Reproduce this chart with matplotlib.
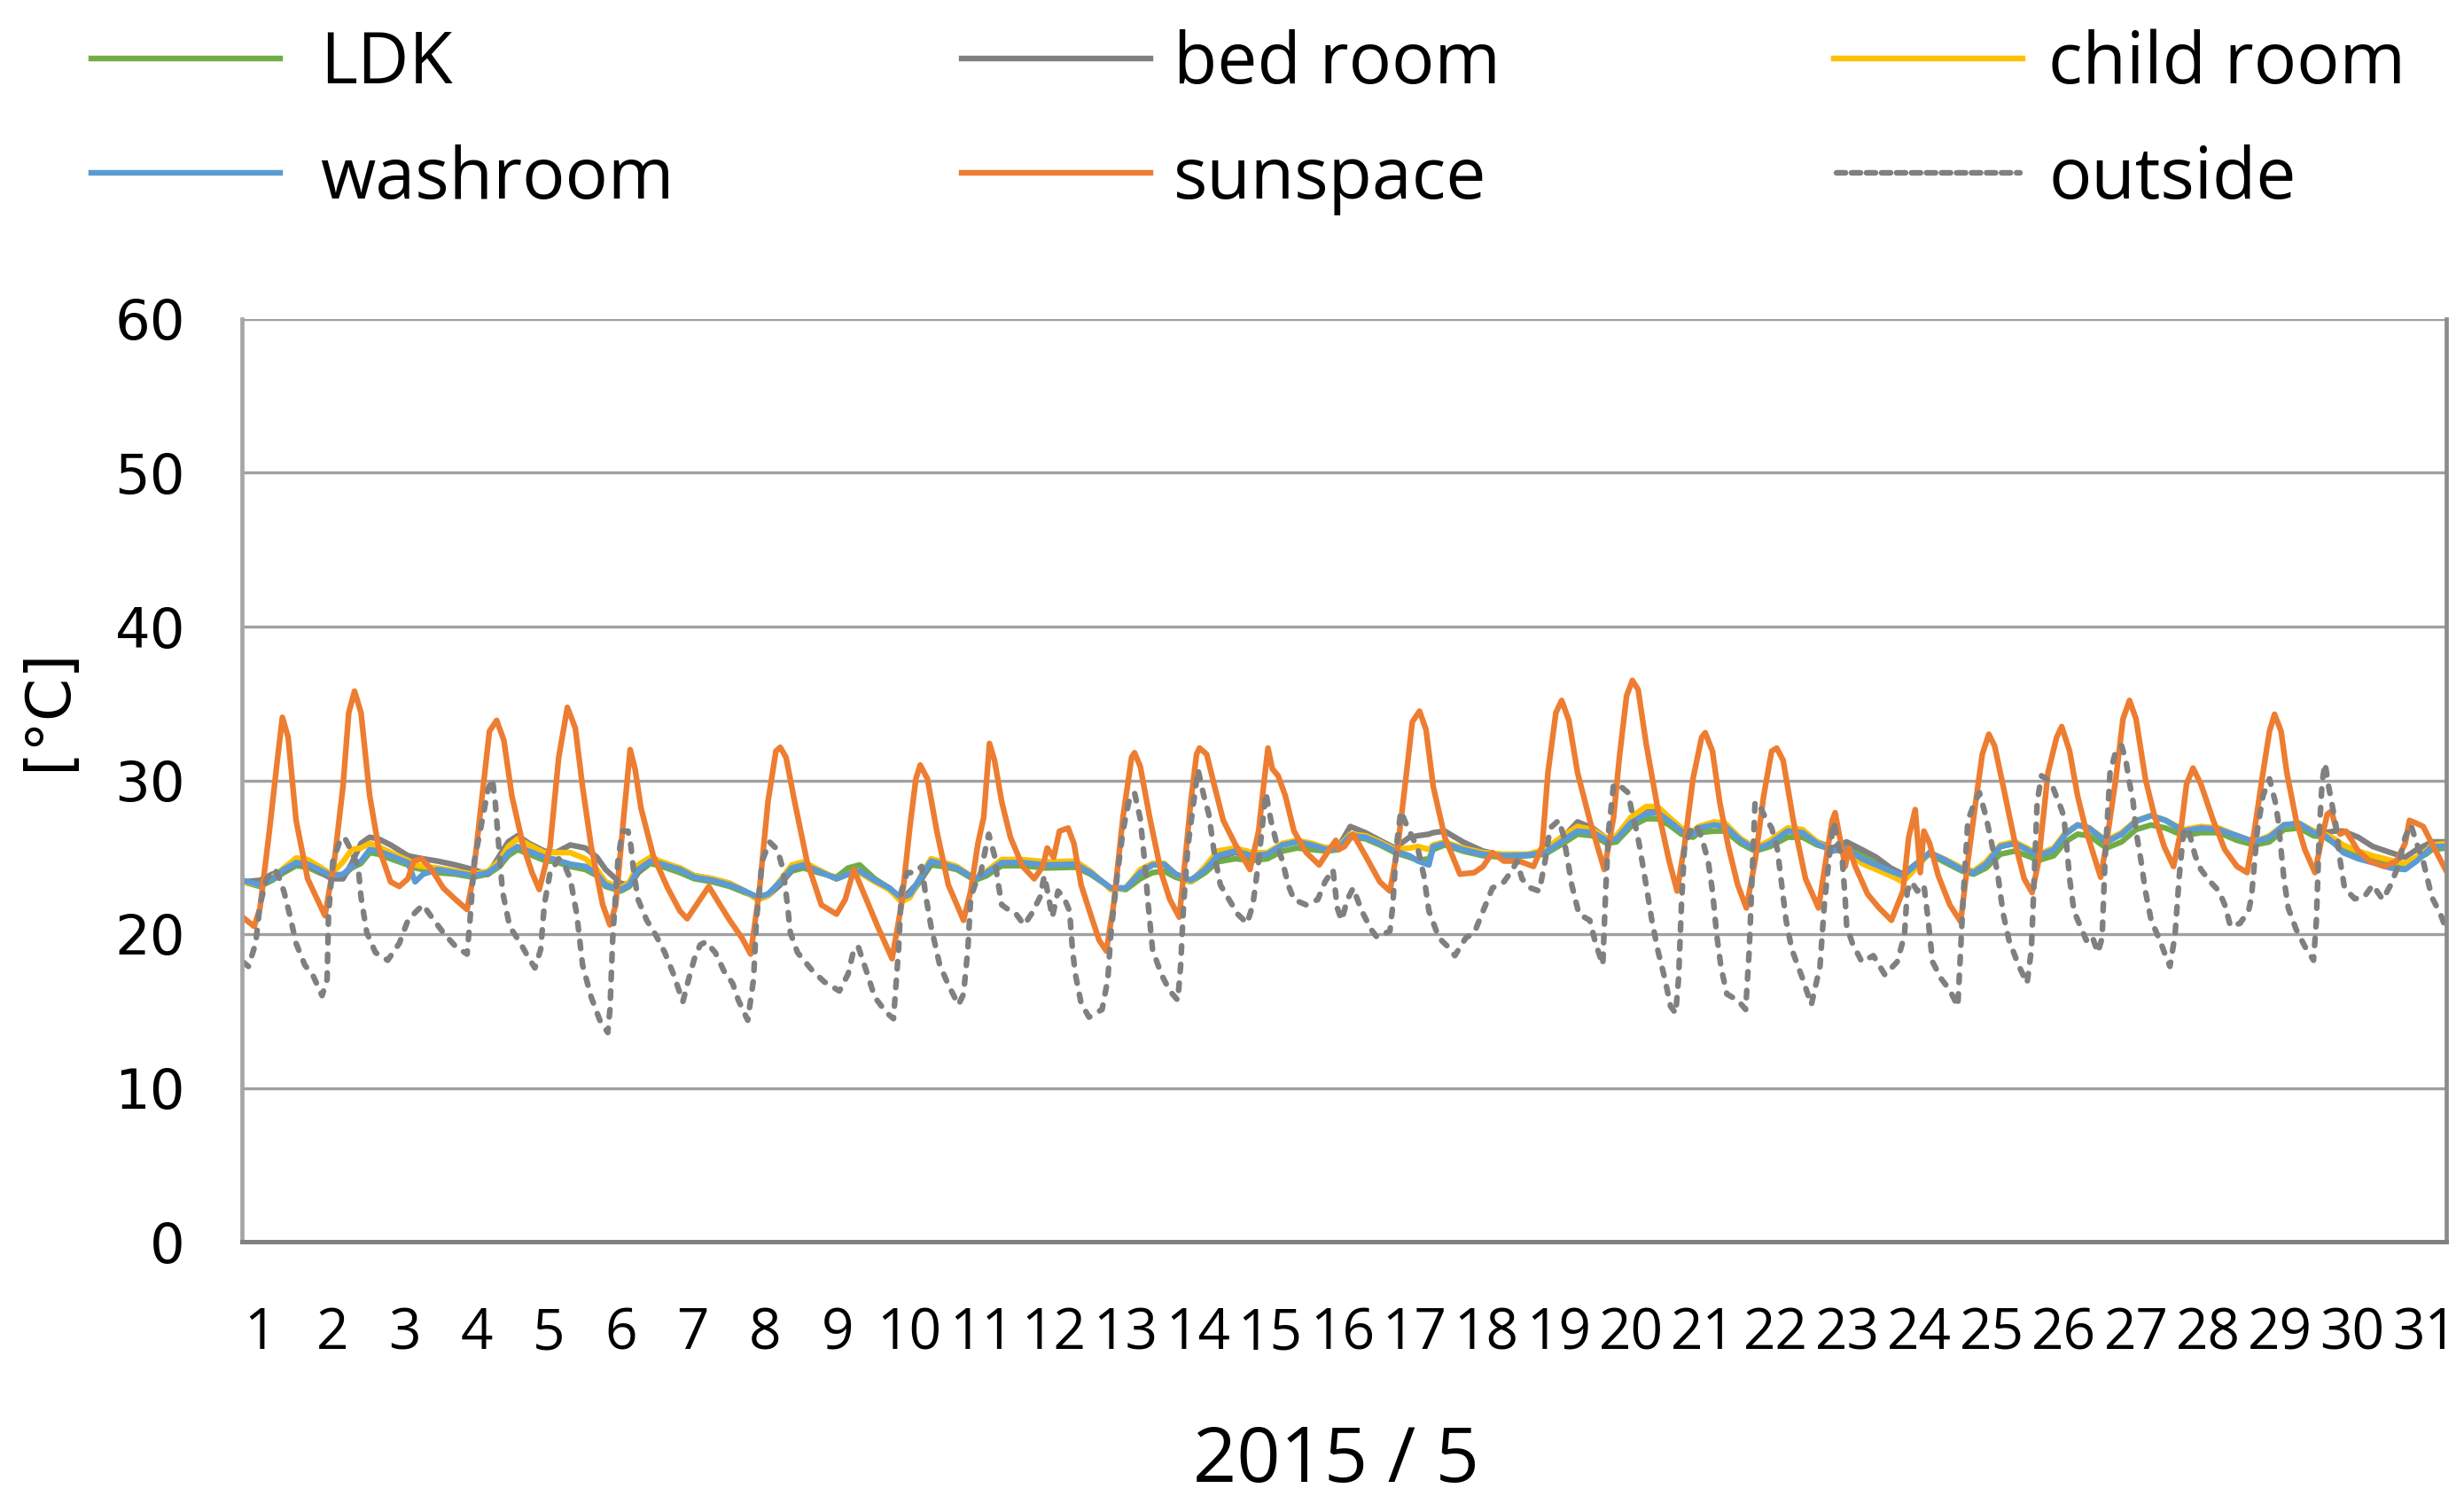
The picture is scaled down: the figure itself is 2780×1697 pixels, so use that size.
import matplotlib
matplotlib.use("Agg")
import matplotlib.pyplot as plt
from matplotlib.lines import Line2D

# ---------------- data ----------------
# time in days of May 2015 (label "k" sits at k)
t_in = [0.76, 1.00, 1.17, 1.33, 1.50, 1.66, 1.82, 1.99, 2.15, 2.27, 2.40, 2.52, 2.64, 2.81, 3.05, 3.15,
        3.26, 3.46, 3.71, 3.95, 4.16, 4.32, 4.44, 4.57, 4.73, 4.94, 5.10, 5.30, 5.51, 5.67, 5.79, 6.00,
        6.12, 6.24, 6.41, 6.57, 6.82, 7.02, 7.27, 7.51, 7.72, 7.90, 8.04, 8.21, 8.37, 8.53, 8.74, 8.99,
        9.15, 9.31, 9.52, 9.72, 9.89, 10.01, 10.17, 10.30, 10.46, 10.66, 10.91, 11.07, 11.28, 11.57, 11.89,
        12.30, 12.51, 12.79, 13.00, 13.20, 13.37, 13.53, 13.69, 13.90, 14.10, 14.27, 14.51, 14.76, 14.96,
        15.17, 15.37, 15.58, 15.78, 15.95, 16.11, 16.32, 16.52, 16.73, 16.93, 17.05, 17.20, 17.26, 17.42,
        17.67, 17.95, 18.24, 18.57, 18.81, 19.06, 19.26, 19.47, 19.67, 19.80, 20.00, 20.21, 20.37, 20.53,
        20.70, 20.86, 20.94, 21.15, 21.31, 21.52, 21.72, 21.93, 22.17, 22.38, 22.58, 22.79, 22.99, 23.20,
        23.40, 23.60, 23.77, 24.01, 24.14, 24.34, 24.59, 24.75, 24.92, 25.12, 25.32, 25.49, 25.65, 25.86,
        26.02, 26.19, 26.35, 26.59, 26.80, 27.00, 27.21, 27.41, 27.66, 27.90, 28.15, 28.40, 28.64, 28.85,
        29.05, 29.26, 29.46, 29.62, 29.75, 29.87, 30.08, 30.28, 30.53, 30.73, 30.89, 31.02, 31.10, 31.30]

washroom = [23.5, 23.2, 23.6, 24.2, 24.65, 24.55, 24.2, 23.8, 23.9, 24.4, 24.75, 25.5, 25.4, 25.1, 24.65, 23.4,
            23.9, 24.2, 24.0, 23.8, 24.0, 24.55, 25.3, 25.7, 25.4, 25.0, 24.85, 24.55, 24.4, 23.9, 23.2, 22.9,
            23.2, 24.2, 24.75, 24.55, 24.2, 23.7, 23.5, 23.2, 22.8, 22.4, 22.6, 23.4, 24.3, 24.5, 24.1, 23.6,
            23.9, 24.1, 23.5, 23.0, 22.35, 22.6, 23.8, 24.75, 24.55, 24.3, 23.6, 24.0, 24.65, 24.65, 24.5,
            24.55, 24.0, 23.0, 23.0, 24.0, 24.5, 24.55, 23.9, 23.5, 24.2, 25.1, 25.4, 25.1, 25.2,
            25.8, 26.0, 25.8, 25.5, 25.6, 26.4, 26.3, 25.9, 25.4, 25.1, 24.75, 24.5, 25.7, 25.9,
            25.5, 25.2, 25.1, 25.15, 25.3, 26.1, 26.7, 26.6, 26.1, 26.2, 27.25, 27.8, 27.9, 27.35,
            26.7, 26.5, 26.9, 27.1, 27.0, 26.1, 25.5, 25.9, 26.7, 26.6, 25.9, 25.4, 25.6, 24.9,
            24.5, 24.1, 23.8, 24.75, 25.3, 24.85, 24.2, 24.0, 24.55, 25.7, 25.9, 25.5, 25.1, 25.5,
            26.5, 27.1, 26.9, 26.0, 26.5, 27.35, 27.7, 27.4, 26.7, 26.9, 26.8, 26.4, 26.0, 26.3,
            27.1, 27.2, 26.6, 26.4, 25.9, 25.3, 24.9, 24.65, 24.3, 24.2, 24.75, 25.3, 25.7, 25.7]

child_room = [23.4, 23.2, 23.7, 24.3, 24.95, 24.85, 24.4, 23.9, 24.7, 25.5, 25.6, 25.9, 25.7, 25.3, 24.8, 24.5,
              24.4, 24.3, 24.1, 23.9, 24.1, 24.8, 25.7, 26.2, 25.8, 25.3, 25.3, 25.3, 24.9, 24.2, 23.4, 23.0,
              23.4, 24.5, 25.0, 24.7, 24.3, 23.8, 23.6, 23.3, 22.8, 22.25, 22.5, 23.5, 24.5, 24.7, 24.2, 23.6,
              23.9, 24.0, 23.4, 22.9, 22.1, 22.4, 23.9, 24.9, 24.7, 24.4, 23.6, 24.1, 24.85, 24.85, 24.7,
              24.75, 24.1, 22.9, 23.0, 24.2, 24.6, 24.6, 23.9, 23.4, 24.4, 25.4, 25.6, 25.3, 25.3,
              25.9, 26.1, 25.9, 25.6, 25.7, 26.5, 26.4, 26.0, 25.5, 25.6, 25.7, 25.5, 25.8, 26.0,
              25.6, 25.3, 25.2, 25.2, 25.5, 26.4, 27.0, 26.8, 26.2, 26.4, 27.6, 28.3, 28.3, 27.6,
              26.9, 26.7, 27.0, 27.3, 27.2, 26.2, 25.6, 26.1, 26.9, 26.8, 26.0, 25.4, 25.5, 24.6,
              24.2, 23.8, 23.4, 24.6, 25.3, 24.9, 24.3, 24.1, 24.7, 25.8, 26.0, 25.6, 25.2, 25.6,
              26.6, 27.1, 26.9, 26.1, 26.6, 27.4, 27.7, 27.4, 26.8, 27.0, 26.9, 26.4, 26.0, 26.4,
              27.1, 27.2, 26.7, 26.5, 26.2, 25.8, 25.4, 25.1, 24.8, 24.6, 25.0, 25.4, 25.8, 25.9]

bed_room = [23.4, 23.5, 23.9, 24.1, 24.6, 24.5, 24.1, 23.6, 23.6, 24.6, 25.9, 26.3, 26.2, 25.8, 25.1, 25.0,
            24.9, 24.75, 24.5, 24.2, 23.9, 25.1, 26.0, 26.4, 25.9, 25.4, 25.3, 25.8, 25.6, 25.0, 24.2, 23.3,
            23.2, 24.0, 24.8, 24.6, 24.3, 23.8, 23.6, 23.3, 22.8, 22.25, 22.5, 23.2, 24.2, 24.5, 24.1, 23.6,
            23.9, 24.1, 23.5, 23.0, 22.2, 22.8, 23.6, 24.7, 24.6, 24.3, 23.6, 24.0, 24.65, 24.65, 24.5,
            24.55, 24.0, 23.0, 23.0, 24.0, 24.5, 24.55, 23.9, 23.5, 24.2, 25.0, 25.3, 25.1, 25.2,
            25.8, 26.0, 25.8, 25.6, 25.7, 27.0, 26.6, 26.1, 25.6, 26.3, 26.4, 26.5, 26.6, 26.7,
            26.0, 25.4, 25.1, 25.15, 25.3, 26.3, 27.3, 26.9, 26.2, 26.3, 27.4, 28.2, 28.2, 27.5,
            26.8, 26.6, 26.9, 27.1, 27.0, 26.2, 25.6, 25.9, 26.7, 26.6, 26.0, 25.6, 26.0, 25.5,
            25.0, 24.3, 23.9, 24.7, 25.3, 24.85, 24.2, 24.0, 24.55, 25.7, 25.9, 25.5, 25.1, 25.5,
            26.5, 27.1, 26.9, 26.0, 26.5, 27.35, 27.7, 27.4, 26.7, 26.9, 26.8, 26.4, 26.0, 26.3,
            27.1, 27.2, 26.7, 26.6, 26.7, 26.7, 26.3, 25.7, 25.3, 25.0, 25.5, 25.8, 26.0, 26.0]

ldk = [23.4, 23.1, 23.5, 24.0, 24.45, 24.35, 24.0, 23.7, 23.8, 24.3, 24.6, 25.3, 25.2, 24.9, 24.5, 24.3,
       24.2, 24.0, 23.9, 23.7, 23.9, 24.4, 25.1, 25.5, 25.2, 24.8, 24.7, 24.4, 24.2, 23.8, 23.1, 22.8,
       23.1, 24.0, 24.6, 24.4, 24.0, 23.6, 23.4, 23.1, 22.7, 22.4, 22.6, 23.3, 24.1, 24.3, 24.0, 23.7,
       24.3, 24.5, 23.6, 23.0, 22.3, 22.5, 23.6, 24.5, 24.4, 24.2, 23.5, 23.8, 24.45, 24.45, 24.3,
       24.35, 23.9, 23.0, 22.9, 23.6, 24.0, 24.1, 23.7, 23.4, 24.0, 24.7, 24.9, 24.8, 24.9,
       25.4, 25.6, 25.5, 25.4, 25.5, 26.3, 26.2, 25.8, 25.3, 25.0, 24.8, 24.9, 25.5, 25.8,
       25.4, 25.1, 25.0, 25.1, 25.2, 25.9, 26.5, 26.4, 25.9, 26.0, 27.0, 27.5, 27.5, 27.1,
       26.5, 26.3, 26.6, 26.7, 26.7, 25.9, 25.4, 25.7, 26.3, 26.3, 25.8, 25.5, 25.9, 25.1,
       24.6, 24.2, 23.9, 24.8, 25.2, 24.7, 24.1, 23.9, 24.3, 25.2, 25.4, 25.1, 24.8, 25.1,
       26.0, 26.5, 26.4, 25.6, 26.0, 26.8, 27.1, 26.9, 26.4, 26.6, 26.6, 26.1, 25.8, 26.0,
       26.8, 26.9, 26.4, 26.3, 25.9, 25.5, 25.1, 24.9, 24.6, 24.5, 24.9, 25.2, 25.5, 25.6]

t_sun = [0.76, 0.92, 1.00, 1.13, 1.23, 1.31, 1.39, 1.50, 1.66, 1.90, 2.03, 2.15, 2.23, 2.31, 2.40, 2.52,
         2.64, 2.81, 2.93, 3.05, 3.13, 3.24, 3.38, 3.54, 3.71, 3.87, 3.95, 4.08, 4.18, 4.28, 4.38, 4.49,
         4.65, 4.77, 4.87, 5.02, 5.14, 5.26, 5.37, 5.47, 5.59, 5.75, 5.85, 5.93, 6.04, 6.13, 6.20, 6.28,
         6.45, 6.65, 6.82, 6.92, 7.02, 7.22, 7.35, 7.51, 7.68, 7.80, 7.92, 8.04, 8.15, 8.21, 8.29, 8.41,
         8.58, 8.78, 8.99, 9.11, 9.23, 9.39, 9.56, 9.76, 9.89, 10.01, 10.09, 10.15, 10.25, 10.38, 10.54,
         10.75, 10.85, 10.95, 11.03, 11.11, 11.18, 11.28, 11.40, 11.57, 11.73, 11.85, 11.91, 12.00, 12.08,
         12.20, 12.28, 12.38, 12.51, 12.63, 12.73, 12.83, 12.96, 13.08, 13.12, 13.20, 13.33, 13.49, 13.61,
         13.74, 13.82, 13.90, 13.98, 14.02, 14.12, 14.23, 14.35, 14.51, 14.72, 14.84, 14.92, 14.97, 15.03,
         15.11, 15.21, 15.33, 15.50, 15.68, 15.82, 15.91, 15.95, 16.03, 16.15, 16.32, 16.52, 16.66, 16.77,
         16.89, 16.97, 17.07, 17.16, 17.26, 17.42, 17.63, 17.83, 17.95, 18.08, 18.24, 18.45, 18.65, 18.77,
         18.85, 18.96, 19.04, 19.14, 19.26, 19.43, 19.63, 19.76, 19.84, 19.94, 20.02, 20.10, 20.21, 20.37,
         20.53, 20.64, 20.74, 20.86, 20.98, 21.03, 21.13, 21.23, 21.35, 21.48, 21.60, 21.72, 21.84, 21.95,
         22.02, 22.11, 22.25, 22.42, 22.60, 22.70, 22.79, 22.83, 22.91, 22.97, 23.02, 23.11, 23.28, 23.44,
         23.61, 23.77, 23.85, 23.94, 24.01, 24.06, 24.14, 24.26, 24.42, 24.57, 24.67, 24.79, 24.87, 24.96,
         25.04, 25.16, 25.32, 25.45, 25.56, 25.65, 25.78, 25.90, 25.97, 26.08, 26.19, 26.31, 26.43, 26.51,
         26.59, 26.72, 26.82, 26.91, 27.00, 27.13, 27.25, 27.39, 27.52, 27.62, 27.70, 27.79, 27.90, 28.07,
         28.23, 28.40, 28.54, 28.64, 28.76, 28.85, 28.92, 29.01, 29.09, 29.22, 29.34, 29.48, 29.56, 29.65,
         29.71, 29.77, 29.83, 29.91, 29.99, 30.08, 30.24, 30.44, 30.61, 30.73, 30.79, 30.89, 30.98, 31.10,
         31.30]
sunspace = [21.1, 20.5, 21.7, 26.7, 30.9, 34.1, 32.8, 27.4, 23.6, 21.2, 24.75, 29.6, 34.4, 35.8, 34.4, 29.0,
            25.7, 23.4, 23.1, 23.6, 24.75, 24.9, 24.2, 23.0, 22.25, 21.6, 23.6, 29.0, 33.2, 33.9, 32.6, 29.0,
            25.7, 24.0, 22.9, 25.7, 31.5, 34.75, 33.4, 29.6, 25.7, 21.9, 20.6, 21.9, 27.6, 32.0, 30.7, 28.2,
            25.1, 23.0, 21.5, 21.0, 21.7, 23.1, 22.1, 20.9, 19.75, 18.7, 22.8, 28.6, 31.9, 32.15, 31.5, 28.6,
            24.75, 21.9, 21.3, 22.25, 24.2, 22.4, 20.5, 18.4, 21.9, 27.1, 30.1, 31.0, 30.1, 26.7, 23.2,
            20.9, 22.8, 25.9, 27.6, 32.4, 31.3, 28.6, 26.3, 24.4, 23.6, 24.4, 25.6, 25.0, 26.7,
            26.9, 25.9, 23.2, 21.3, 19.6, 18.9, 21.9, 27.6, 31.5, 31.8, 30.9, 27.6, 24.0, 22.25,
            21.1, 24.75, 28.6, 31.7, 32.1, 31.7, 29.6, 27.4, 25.9, 24.2, 26.7, 30.1, 32.1, 30.75,
            30.3, 29.0, 26.7, 25.3, 24.5, 25.5, 26.1, 25.5, 25.7, 26.5, 25.1, 23.4, 22.8, 25.7,
            30.5, 33.8, 34.5, 33.3, 29.6, 26.3, 23.9, 24.0, 24.4, 25.3, 24.75, 24.75, 24.4, 25.7,
            30.5, 34.4, 35.2, 33.9, 30.5, 27.4, 24.2, 27.6, 31.5, 35.5, 36.5, 35.9, 32.4, 28.2,
            24.75, 22.8, 25.7, 30.1, 32.8, 33.1, 31.9, 28.6, 25.7, 23.2, 21.7, 24.75, 29.0, 31.9,
            32.1, 31.3, 27.4, 23.6, 21.7, 24.75, 27.4, 27.9, 25.9, 24.4, 25.6, 24.4, 22.6, 21.7,
            20.9, 22.8, 26.3, 28.1, 24.0, 26.7, 25.9, 23.8, 21.9, 20.8, 24.75, 29.0, 31.7, 33.0,
            32.25, 29.6, 26.0, 23.6, 22.7, 24.75, 30.5, 32.8, 33.5, 31.9, 29.0, 26.7, 24.9, 23.7,
            25.9, 30.1, 34.0, 35.2, 34.0, 30.1, 27.8, 25.7, 24.4, 26.7, 29.75, 30.8, 29.75, 27.4,
            25.5, 24.4, 24.0, 26.7, 30.5, 33.2, 34.3, 33.2, 30.5, 27.4, 25.5, 24.0, 25.9, 27.8,
            28.0, 26.9, 26.5, 26.7, 26.1, 25.4, 24.75, 24.4, 24.75, 25.9, 27.4, 27.2, 27.0, 25.9,
            24.1]

t_out = [0.76, 0.84, 0.94, 1.00, 1.09, 1.21, 1.27, 1.33, 1.41, 1.50, 1.62, 1.74, 1.86, 1.93, 1.95, 2.01,
         2.11, 2.17, 2.23, 2.36, 2.40, 2.48, 2.60, 2.77, 2.93, 3.05, 3.17, 3.26, 3.38, 3.54, 3.71, 3.87,
         3.91, 3.97, 4.08, 4.16, 4.22, 4.26, 4.30, 4.36, 4.46, 4.61, 4.73, 4.81, 4.89, 4.94, 5.02, 5.14,
         5.22, 5.30, 5.39, 5.47, 5.59, 5.71, 5.82, 5.85, 5.89, 5.96, 6.02, 6.10, 6.14, 6.18, 6.24, 6.36,
         6.49, 6.61, 6.73, 6.86, 6.94, 7.02, 7.10, 7.18, 7.31, 7.43, 7.55, 7.63, 7.76, 7.84, 7.88, 7.96,
         8.06, 8.17, 8.25, 8.31, 8.35, 8.45, 8.66, 8.82, 9.03, 9.15, 9.23, 9.29, 9.39, 9.52, 9.68, 9.78,
         9.85, 9.89, 9.97, 10.07, 10.17, 10.23, 10.30, 10.42, 10.54, 10.68, 10.75, 10.81, 10.85, 10.91,
         10.99, 11.07, 11.10, 11.18, 11.22, 11.28, 11.40, 11.48, 11.59, 11.69, 11.81, 11.87, 11.93, 11.98,
         12.06, 12.14, 12.22, 12.26, 12.30, 12.38, 12.49, 12.67, 12.75, 12.79, 12.88, 12.96, 13.04, 13.12,
         13.20, 13.26, 13.31, 13.37, 13.49, 13.61, 13.72, 13.76, 13.80, 13.86, 13.94, 14.00, 14.08, 14.15,
         14.23, 14.31, 14.43, 14.55, 14.68, 14.76, 14.84, 14.90, 14.94, 15.01, 15.09, 15.17, 15.25, 15.33,
         15.50, 15.66, 15.76, 15.87, 15.93, 15.99, 16.07, 16.15, 16.27, 16.40, 16.48, 16.66, 16.70, 16.75,
         16.81, 16.89, 16.97, 17.05, 17.13, 17.20, 17.34, 17.46, 17.56, 17.71, 17.83, 17.95, 18.08, 18.24,
         18.36, 18.42, 18.49, 18.61, 18.73, 18.81, 18.88, 19.00, 19.06, 19.12, 19.18, 19.28, 19.43, 19.51,
         19.61, 19.65, 19.69, 19.76, 19.86, 19.96, 20.02, 20.08, 20.12, 20.21, 20.29, 20.37, 20.47, 20.55,
         20.62, 20.66, 20.70, 20.74, 20.82, 20.90, 20.98, 21.07, 21.13, 21.19, 21.25, 21.33, 21.48, 21.59,
         21.64, 21.68, 21.72, 21.78, 21.86, 21.95, 22.03, 22.09, 22.15, 22.23, 22.38, 22.50, 22.62, 22.68,
         22.75, 22.81, 22.87, 22.93, 22.97, 22.99, 23.07, 23.20, 23.36, 23.52, 23.69, 23.79, 23.83, 23.89,
         23.97, 24.06, 24.12, 24.18, 24.30, 24.42, 24.53, 24.57, 24.61, 24.67, 24.75, 24.83, 24.92, 25.00,
         25.08, 25.16, 25.24, 25.37, 25.49, 25.55, 25.59, 25.63, 25.69, 25.82, 25.90, 25.96, 26.00, 26.04,
         26.08, 26.14, 26.23, 26.31, 26.39, 26.47, 26.53, 26.57, 26.64, 26.72, 26.80, 26.86, 26.90, 26.96,
         27.00, 27.07, 27.13, 27.21, 27.33, 27.41, 27.47, 27.54, 27.60, 27.66, 27.72, 27.82, 27.90, 28.03,
         28.15, 28.23, 28.31, 28.44, 28.56, 28.60, 28.68, 28.76, 28.85, 28.93, 28.97, 29.01, 29.05, 29.11,
         29.22, 29.34, 29.46, 29.50, 29.54, 29.58, 29.62, 29.67, 29.71, 29.77, 29.83, 29.89, 30.03, 30.16,
         30.28, 30.42, 30.53, 30.63, 30.73, 30.81, 30.89, 30.98, 31.10, 31.22, 31.30]
outside = [18.2, 17.9, 19.4, 21.9, 23.6, 24.2, 23.6, 22.8, 21.3, 19.4, 18.0, 17.25, 16.0, 17.06, 21.3, 24.75,
           26.1, 26.3, 25.75, 24.4, 22.4, 20.1, 18.8, 18.3, 19.4, 20.9, 21.5, 21.9, 21.1, 20.1, 19.2, 18.7,
           20.9, 24.75, 27.4, 29.4, 30.1, 28.6, 26.3, 22.8, 20.5, 19.4, 18.4, 17.8, 19.0, 21.9, 24.0, 24.9,
           24.5, 23.6, 21.3, 18.0, 15.9, 14.4, 13.6, 15.1, 19.9, 24.75, 26.7, 26.7, 25.75, 24.0, 22.25, 20.9,
           19.9, 18.8, 17.4, 15.6, 17.06, 18.4, 19.3, 19.5, 18.8, 17.6, 16.8, 15.7, 14.4, 17.06, 20.9, 24.75,
           26.0, 25.5, 24.2, 21.9, 20.1, 18.8, 17.6, 16.9, 16.3, 17.4, 19.0, 19.2, 17.8, 15.9, 14.9, 14.5,
           19.0, 22.8, 24.0, 24.0, 24.4, 22.4, 20.5, 18.0, 16.7, 15.4, 16.1, 19.0, 22.4, 23.2,
           24.0, 25.9, 26.5, 25.1, 23.6, 21.9, 21.5, 21.3, 20.6, 21.3, 22.4, 23.8, 22.4, 21.1,
           22.8, 22.4, 21.5, 19.0, 17.4, 15.5, 14.6, 15.1, 17.06, 19.9, 23.8, 26.7, 28.6, 29.2,
           27.5, 24.75, 21.9, 19.0, 17.4, 16.3, 15.7, 18.0, 21.9, 25.7, 28.6, 30.7, 29.0, 27.8,
           25.1, 23.2, 22.25, 21.3, 20.7, 21.9, 24.75, 27.4, 29.2, 27.4, 25.9, 24.75, 23.2, 22.25,
           21.9, 22.25, 23.4, 24.2, 21.7, 20.9, 22.25, 23.0, 21.5, 20.3, 19.8, 20.2, 21.9, 25.7,
           28.0, 27.1, 26.3, 25.5, 23.8, 21.5, 19.75, 19.2, 18.6, 19.75, 20.1, 21.5, 23.0, 23.4,
           24.2, 24.75, 23.6, 23.0, 22.8, 24.75, 26.9, 27.4, 26.5, 24.9, 23.2, 21.3, 20.9, 19.4,
           18.0, 22.8, 26.7, 29.75, 29.6, 29.2, 27.8, 26.7, 25.7, 23.2, 20.9, 19.0, 17.1, 15.3,
           14.85, 17.1, 21.9, 25.5, 26.7, 27.1, 26.3, 24.75, 22.8, 19.9, 17.8, 16.1, 15.7, 15.1,
           19.0, 23.8, 28.6, 28.4, 27.6, 26.9, 25.5, 23.2, 20.9, 19.0, 17.1, 15.4, 17.9, 21.9,
           25.1, 27.3, 25.9, 24.75, 22.25, 20.5, 19.4, 18.2, 18.6, 17.35, 18.2, 19.9, 22.8, 23.4,
           22.8, 23.2, 20.9, 18.2, 17.1, 16.35, 15.3, 19.0, 22.8, 27.4, 28.4, 29.2, 27.65, 25.9,
           24.0, 21.3, 19.6, 18.0, 16.8, 19.0, 23.8, 28.6, 30.3, 29.9, 28.9, 28.2, 27.65, 25.7,
           23.6, 21.5, 20.5, 19.6, 19.9, 18.8, 19.75, 24.75, 30.5, 31.9, 32.25, 31.3, 30.1, 28.6,
           26.7, 24.75, 22.8, 20.9, 19.6, 18.6, 17.9, 19.9, 23.8, 26.7, 26.9, 25.1, 24.2, 23.4,
           22.8, 21.9, 20.5, 20.7, 21.5, 22.4, 26.7, 29.0, 30.1, 28.6, 27.4, 25.5, 23.6, 21.7,
           20.3, 19.2, 18.3, 20.9, 26.7, 29.9, 31.1, 29.6, 28.6, 27.1, 24.75, 23.0, 22.3, 22.4,
           23.2, 22.25, 23.2, 24.4, 26.3, 27.1, 25.9, 24.75, 22.4, 21.3, 20.3]

day_ticks = list(range(1, 32))
day_labels = [str(d) for d in day_ticks]
y_ticks = [0, 10, 20, 30, 40, 50, 60]

names = ["LDK", "bed room", "child room", "washroom", "sunspace", "outside"]
colors = ["#70AD47", "#808080", "#FFC000", "#5B9BD5", "#ED7D31", "#808080"]
styles = ["-", "-", "-", "-", "-", "--"]
xs = [t_in, t_in, t_in, t_in, t_sun, t_out]
ys = [ldk, bed_room, child_room, washroom, sunspace, outside]

# ---------------- figure ----------------
W, H = 2780, 1697
fig = plt.figure(figsize=(W / 100, H / 100), dpi=100)
ax = fig.add_axes([273 / W, 1 - 1401 / H, (2760 - 273) / W, (1401 - 360) / H])

LW = 4.6
DASH = (0, (1.3, 2.0))   # scaled by linewidth; round caps add one lw to each dash
for x, y, c, ls in zip(xs, ys, colors, styles):
    if ls == "--":
        ax.plot(x, y, color=c, lw=LW, linestyle=DASH, dash_capstyle="round",
                dash_joinstyle="round")
    else:
        ax.plot(x, y, color=c, lw=LW, solid_joinstyle="round", solid_capstyle="round")

ax.set_xlim(0.75, 31.3)
ax.set_ylim(0, 60)
ax.set_yticks(y_ticks)
ax.set_xticks(day_ticks)
ax.set_xticklabels(day_labels, fontsize=46, family=["Open Sans", "DejaVu Sans"])
ax.set_yticklabels([str(v) for v in y_ticks], fontsize=45, family="DejaVu Sans")
ax.tick_params(axis="both", length=0)
ax.tick_params(axis="y", pad=46)
ax.tick_params(axis="x", pad=52)

ax.set_axisbelow(True)
ax.yaxis.grid(True, color="#A0A0A0", lw=2.4)
ax.xaxis.grid(False)
ax.spines["top"].set_visible(False)
ax.spines["left"].set_color("#A6A6A6")
ax.spines["left"].set_linewidth(3.4)
ax.spines["right"].set_color("#8C8C8C")
ax.spines["right"].set_linewidth(3.4)
ax.spines["bottom"].set_color("#808080")
ax.spines["bottom"].set_linewidth(3.6)

fig.text(55 / W, 1 - 800 / H, "[°C]", rotation=90, ha="center", va="center",
         fontsize=50, family="DejaVu Sans")
fig.text(1507 / W, 1 - 1672 / H, "2015 / 5", ha="center", va="baseline",
         fontsize=62, family=["Open Sans", "DejaVu Sans"])

# ---------------- legend (3 columns x 2 rows) ----------------
line_x0 = [103, 1085, 2069]
text_x0 = [361, 1324, 2311]
line_y = [66, 195]
text_base = [94, 224]
for i, (name, c, ls) in enumerate(zip(names, colors, styles)):
    col, row = i % 3, i // 3
    x0 = line_x0[col]
    yy = 1 - line_y[row] / H
    if ls == "--":
        art = Line2D([(x0 + 3) / W, (x0 + 210) / W], [yy, yy], transform=fig.transFigure,
                     color=c, lw=LW, linestyle=(0, (1.6, 1.05)), dash_capstyle="round")
    else:
        art = Line2D([x0 / W, (x0 + 213) / W], [yy, yy], transform=fig.transFigure,
                     color=c, lw=LW)
    fig.add_artist(art)
    fig.text(text_x0[col] / W, 1 - text_base[row] / H, name, ha="left", va="baseline",
             fontsize=58, family=["Open Sans", "DejaVu Sans"])

fig.savefig("out.png", dpi=100)
